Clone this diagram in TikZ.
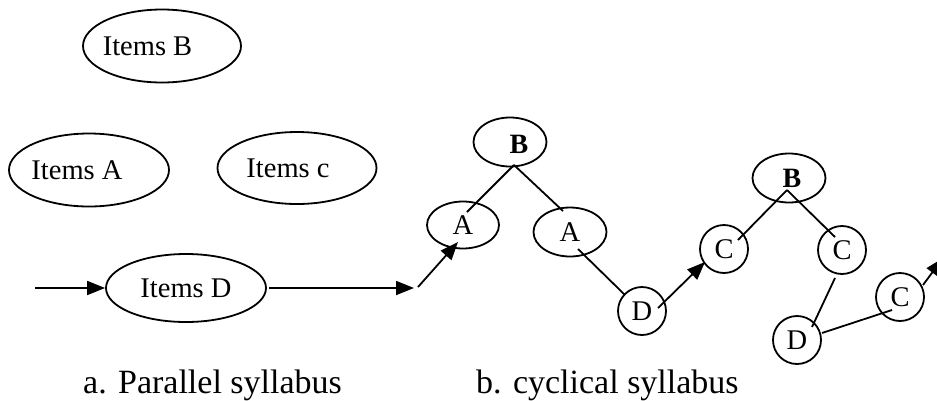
\documentclass[tikz,border=0pt]{standalone}
\usepackage{fontspec}
\setmainfont{Liberation Serif}
\usetikzlibrary{shapes.geometric,arrows.meta,calc}
\begin{document}
\begin{tikzpicture}[x=1pt,y=-1pt,
  shp/.style={draw, ellipse, line width=1.8pt, inner sep=0pt},
  txt/.style={font=\fontsize{28.5}{34}\selectfont},
  btxt/.style={font=\fontsize{28}{34}\selectfont\bfseries},
  ln/.style={line width=1.8pt},
  arr/.style={line width=1.8pt, -{Triangle[length=18pt,width=14pt]}},
  captxt/.style={font=\fontsize{34}{40}\selectfont, anchor=base west, inner sep=0pt}]
\useasboundingbox (0,0) rectangle (937,400);

% ---- a. parallel syllabus
\node[shp, minimum width=158pt, minimum height=73pt,
      label={[txt, xshift=-14.5pt]center:Items B}] (IB) at (162,46) {};
\node[shp, minimum width=160pt, minimum height=73pt,
      label={[txt, xshift=-12pt]center:Items A}] (IA) at (89,170) {};
\node[shp, minimum width=159pt, minimum height=72pt,
      label={[txt, xshift=-9pt]center:Items c}] (IC) at (297,168) {};
\node[shp, minimum width=160pt, minimum height=68pt, txt] (ID) at (186,288) {Items D};

\coordinate (in1) at (35,288);
\coordinate (out1) at (414,288);
\draw[arr] (in1) -- (ID.west);
\draw[arr] ($(ID.east)+(2,0)$) -- (out1);

% ---- b. cyclical syllabus
\node[shp, minimum width=73pt, minimum height=49pt,
      label={[btxt, xshift=9pt, yshift=-2pt]center:B}] (B1) at (510,142) {};
\node[shp, minimum width=72pt, minimum height=47pt, txt] (A1) at (463,225) {A};
\node[shp, minimum width=73pt, minimum height=49pt, txt] (A2) at (570,232) {A};
\node[shp, circle, minimum size=48pt, txt] (D1) at (642,311) {D};
\node[shp, circle, minimum size=48pt, txt] (C1) at (724,249) {C};
\node[shp, minimum width=73pt, minimum height=49pt,
      label={[btxt, xshift=3pt]center:B}] (B2) at (789,178) {};
\node[shp, circle, minimum size=48pt, txt] (C2) at (842,250) {C};
\node[shp, circle, minimum size=48pt, txt] (D2) at (797,340) {D};
\node[shp, circle, minimum size=48pt, txt] (C3) at (900,297) {C};

\coordinate (in2) at (418,287);
\coordinate (out2) at (943,258);

\draw[arr] (in2) -- ($(A1)+(-5,17)$);
\draw[ln] ($(B1)+(4,23)$) -- ($(A1)+(4,-13)$);
\draw[ln] ($(B1)+(4,23)$) -- ($(A2)+(-7,-21)$);
\draw[ln] ($(A2)+(8,17)$) -- ($(D1)+(-17,-16)$);
\draw[arr] ($(D1)+(16,-3)$) -- ($(C1)+(-19,13)$);
\draw[ln] ($(B2)+(-2,12)$) -- ($(C1)+(14,-9)$);
\draw[ln] ($(B2)+(-2,12)$) -- ($(C2)+(-7,-13)$);
\draw[ln] ($(C2)+(-7,28)$) -- ($(D2)+(15,-13)$);
\draw[ln] ($(D2)+(25,-7)$) -- ($(C3)+(-8,13)$);
\draw[arr] ($(C3)+(23,-12)$) -- (out2);

% ---- captions
\node[captxt] (capa) at (83,393) {a. Parallel syllabus};
\node[captxt] (capb) at (476,393) {b. cyclical syllabus};
\end{tikzpicture}
\end{document}
